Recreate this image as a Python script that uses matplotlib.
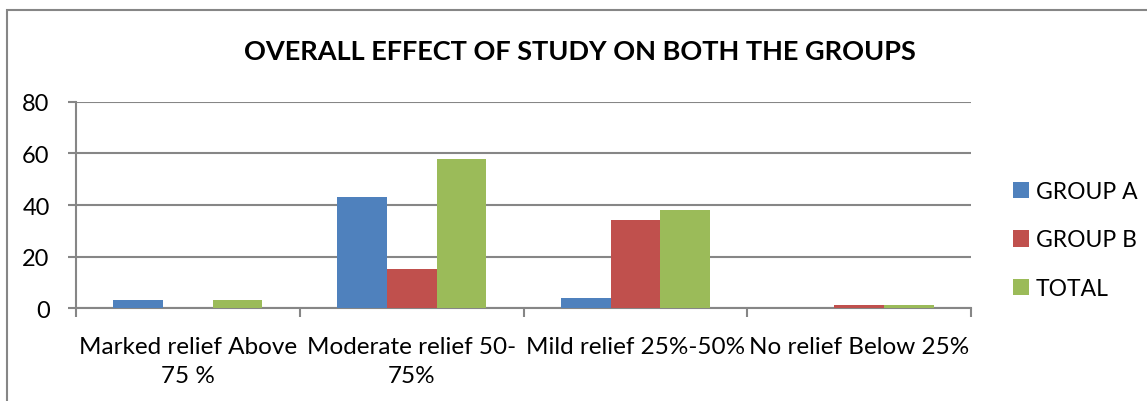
"""Overall effect of study on both the groups, clustered bar chart."""

from matplotlib import pyplot
from matplotlib.patches import Rectangle
import numpy as np


categories = ['Marked relief Above\n75 %', 'Moderate relief 50-\n75%',
              'Mild relief 25%-50%', 'No relief Below 25%']
group_a = [3, 43, 4, 0]
group_b = [0, 15, 34, 1]
total = [3, 58, 38, 1]
series_names = ['GROUP A', 'GROUP B', 'TOTAL']
series_colors = ['#4F81BD', '#C0504D', '#9BBB59']
y_ticks = [0, 20, 40, 60, 80]

pyplot.rc('font', family=['Lato', 'DejaVu Sans'])
fig = pyplot.figure(figsize=(11.47, 4.02), dpi=100)
ax = fig.add_axes([0.0663, 0.2313, 0.7803, 0.5125])

# Outer chart border (runs off the right and bottom edges).
fig.patches.append(Rectangle((7 / 1147, -0.1), 1.2, (402 - 11) / 402 + 0.1,
                             transform=fig.transFigure, fill=False,
                             edgecolor='#868686', linewidth=1.5))

x = np.arange(len(categories))
width = 0.222
for i, (values, name, color) in enumerate(zip([group_a, group_b, total],
                                               series_names, series_colors)):
    ax.bar(x + (i - 1) * width, values, width, label=name, color=color,
           zorder=3)

ax.set_xlim(-0.5, len(categories) - 0.5)
ax.set_ylim(0, 80)
ax.set_yticks(y_ticks)
ax.set_xticks(np.arange(len(categories) + 1) - 0.5)
ax.set_xticklabels([])
ax.set_xticks(x, categories, minor=True)
ax.tick_params(axis='x', which='major', length=6.5, width=1.5,
               color='#868686')
ax.tick_params(axis='x', which='minor', length=0, pad=20, labelsize=17.5)
ax.tick_params(axis='y', length=6, width=1.5, color='#868686',
               labelsize=17, pad=13)
for label in ax.get_xticklabels(minor=True):
    label.set_linespacing(1.5)

ax.yaxis.grid(True, color='#868686', linewidth=1.5, zorder=0)
for side in ['top', 'right']:
    ax.spines[side].set_visible(False)
for side in ['left', 'bottom']:
    ax.spines[side].set_color('#868686')
    ax.spines[side].set_linewidth(1.5)

fig.text(580 / 1147, (402 - 52) / 402, 'OVERALL EFFECT OF STUDY ON BOTH THE GROUPS',
         ha='center', va='center', fontsize=19.5, fontweight='bold')

ax.legend(loc='center left', bbox_to_anchor=(1013 / 1147, (402 - 241) / 402),
          bbox_transform=fig.transFigure, frameon=False, borderpad=0,
          borderaxespad=0, fontsize=16.5, handlelength=0.7, handleheight=0.7,
          handletextpad=0.3, labelspacing=1.2)

fig.savefig('out.png', dpi=100)
